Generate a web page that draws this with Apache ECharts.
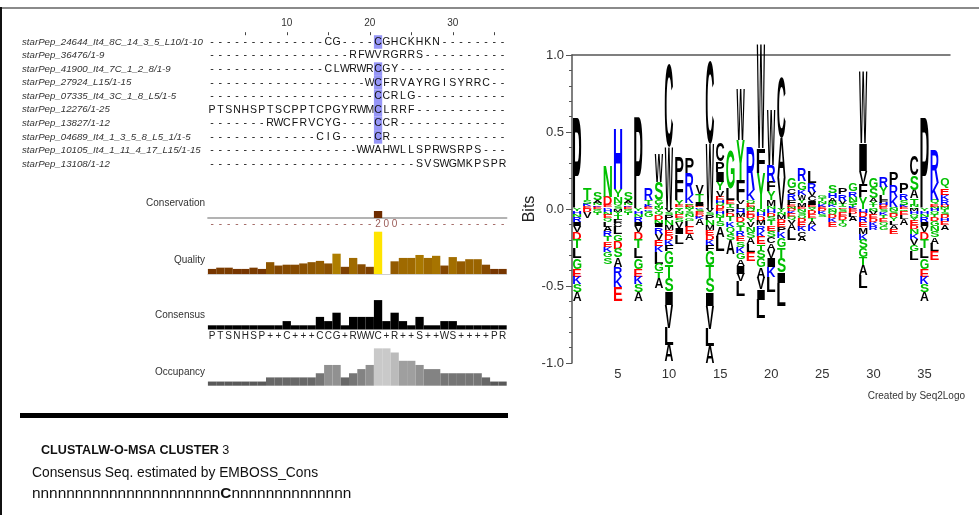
<!DOCTYPE html>
<html><head><meta charset="utf-8">
<script src="https://cdn.jsdelivr.net/npm/echarts@6/dist/echarts.min.js"></script>
<style>html,body{margin:0;padding:0;background:#fff}#c{width:979px;height:515px}</style>
</head><body><div id="c"></div>
<script>
// ---------------- DATA ----------------
const columns = ["1","2","3","4","5","6","7","8","9","10","11","12","13","14","15","16","17","18","19","20","21","22","23","24","25","26","27","28","29","30","31","32","33","34","35","36"];
const seqNames = [
  "starPep_24644_It4_8C_14_3_5_L10/1-10",
  "starPep_36476/1-9",
  "starPep_41900_It4_7C_1_2_8/1-9",
  "starPep_27924_L15/1-15",
  "starPep_07335_It4_3C_1_8_L5/1-5",
  "starPep_12276/1-25",
  "starPep_13827/1-12",
  "starPep_04689_It4_1_3_5_8_L5_1/1-5",
  "starPep_10105_It4_1_11_4_17_L15/1-15",
  "starPep_13108/1-12"
];
const alignRows = [
  "--------------CG----CGHCKHKN--------",
  "-----------------RFWVRGRRS----------",
  "--------------CLWRWRCGY-------------",
  "-------------------WCFRVAYRGISYRRC--",
  "--------------------CCRLG-----------",
  "PTSNHSPTSCPPTCPGYRWMCLRRF-----------",
  "-------RWCFRVCYG----CCR-------------",
  "-------------CIG----CR--------------",
  "------------------WWAHWLLSPRWSRPS---",
  "-------------------------SVSWGMKPSPR"
];
const conservationChars = "--------------------200-------------";
const conservation = [0,0,0,0,0,0,0,0,0,0,0,0,0,0,0,0,0,0,0,0,2,0,0,0,0,0,0,0,0,0,0,0,0,0,0,0];
const quality = [12,15,15,12,12,15,12,28,20,22,22,25,28,31,25,48,17,38,23,17,100,0,30,38,38,45,38,43,20,40,30,35,35,22,12,12];
const consensusChars = "PTSNHSP++C+++CCG+RWWC+R++S++WS++++PR";
const consensus = [10,10,10,10,10,10,10,10,10,20,10,10,10,30,20,40,10,30,30,30,70,20,40,20,10,30,10,10,20,20,10,10,10,10,10,10];
const occupancy = [1,1,1,1,1,1,1,2,2,2,2,2,2,3,5,5,2,3,4,5,9,9,8,6,6,5,4,4,3,3,3,3,3,2,1,1];

const logoPositions = [1,2,3,4,5,6,7,8,9,10,11,12,13,14,15,16,17,18,19,20,21,22,23,24,25,26,27,28,29,30,31,32,33,34,35,36,37];
const logoTicks = [5,10,15,20,25,30,35];
// positive stacks, listed from the zero line upward: [letter, bits]
const logoUp = [
  [["P",.59]],
  [["E",.018],["K",.015],["S",.025],["T",.076]],
  [["E",.015],["K",.01],["N",.015],["A",.02],["S",.052]],
  [["K",.01],["E",.015],["D",.055],["N",.205]],
  [["S",.02],["Q",.017],["N",.043],["Y",.048],["H",.396]],
  [["E",.015],["K",.01],["N",.015],["A",.02],["S",.052]],
  [["P",.595]],
  [["E",.012],["K",.015],["T",.03],["R",.07]],
  [["N",.015],["Y",.02],["G",.023],["S",.12],["W",.184]],
  [["W",.40],["C",.54]],
  [["Q",.012],["E",.012],["Y",.03],["F",.13],["P",.15]],
  [["N",.012],["E",.012],["Q",.013],["K",.053],["R",.14],["P",.10]],
  [["K",.01],["E",.012],["I",.025],["T",.05],["V",.06]],
  [["W",.42],["C",.537]],
  [["D",.02],["Q",.02],["H",.02],["E",.02],["V",.043],["Y",.054],["I",.065],["P",.065],["C",.119]],
  [["Q",.015],["T",.02],["E",.023],["L",.076],["G",.249]],
  [["L",.03],["V",.028],["F",.13],["Y",.26],["W",.336]],
  [["N",.015],["E",.02],["Q",.023],["K",.065],["R",.282]],
  [["Y",.232],["F",.162],["W",.671]],
  [["N",.02],["M",.038],["Y",.055],["F",.064],["R",.109],["W",.357]],
  [["V",.20],["A",.26],["C",.39]],
  [["N",.015],["E",.013],["F",.03],["R",.042],["C",.034],["G",.066]],
  [["E",.015],["M",.025],["Y",.02],["W",.031],["K",.034],["G",.054],["R",.085]],
  [["Q",.015],["E",.012],["I",.025],["C",.03],["V",.03],["R",.054],["L",.076]],
  [["E",.015],["K",.015],["N",.02],["T",.02],["G",.02]],
  [["Q",.012],["K",.012],["N",.012],["T",.012],["A",.022],["H",.033],["S",.054]],
  [["E",.01],["Q",.01],["T",.012],["V",.022],["R",.044],["P",.043]],
  [["K",.012],["T",.012],["S",.024],["N",.033],["R",.033],["G",.054]],
  [["Y",.075],["F",.087],["V",.086],["I",.178],["W",.466]],
  [["Q",.012],["T",.014],["Y",.02],["A",.022],["S",.065],["G",.066]],
  [["E",.012],["D",.012],["H",.015],["F",.02],["L",.03],["Y",.055],["R",.066]],
  [["Q",.015],["K",.065],["R",.076],["P",.086]],
  [["E",.012],["K",.015],["S",.03],["R",.044],["P",.066]],
  [["Q",.012],["N",.014],["T",.043],["A",.054],["S",.097],["C",.13]],
  [["P",.589]],
  [["N",.015],["E",.015],["Q",.028],["K",.109],["R",.216]],
  [["N",.012],["D",.014],["R",.032],["K",.033],["E",.043],["Q",.066]]
];
// negative stacks, listed from the zero line downward: [letter, bits]
const logoDown = [
  [["Y",.015],["H",.02],["N",.02],["R",.03],["I",.025],["V",.04],["D",.05],["T",.055],["L",.065],["G",.07],["E",.05],["K",.05],["S",.05],["A",.06]],
  [["D",.02],["V",.04]],
  [["Q",.012],["G",.015],["T",.013]],
  [["H",.02],["N",.02],["E",.02],["Q",.025],["L",.03],["A",.03],["R",.03],["T",.035],["E",.035],["K",.035],["G",.035],["S",.04]],
  [["M",.02],["Y",.02],["T",.025],["F",.025],["C",.03],["L",.045],["G",.045],["D",.05],["S",.055],["A",.06],["R",.065],["K",.065],["E",.09]],
  [["Q",.012],["G",.015],["T",.013]],
  [["Y",.015],["H",.02],["N",.02],["R",.03],["I",.025],["V",.04],["D",.05],["T",.055],["L",.065],["G",.07],["E",.05],["K",.05],["S",.05],["A",.06]],
  [["K",.01],["Q",.012],["G",.03]],
  [["Y",.02],["Q",.02],["D",.03],["N",.025],["I",.025],["R",.04],["V",.04],["E",.04],["K",.04],["L",.075],["G",.05],["T",.045],["A",.065]],
  [["V",.022],["S",.017],["P",.032],["N",.032],["M",.032],["E",.032],["D",.032],["K",.032],["F",.043],["G",.087],["T",.087],["S",.087],["I",.087],["V",.15],["L",.112],["A",.105]],
  [["Y",.015],["N",.02],["E",.025],["S",.025],["V",.04],["I",.04],["L",.06]],
  [["Y",.015],["S",.02],["N",.02],["G",.02],["L",.04],["E",.045],["A",.04]],
  [["S",.02],["E",.015],["D",.015],["K",.015],["A",.04]],
  [["V",.022],["S",.017],["P",.032],["N",.032],["M",.032],["E",.032],["D",.032],["K",.032],["F",.043],["G",.09],["T",.087],["S",.09],["I",.087],["V",.15],["L",.112],["A",.108]],
  [["E",.015],["H",.02],["N",.02],["T",.025],["S",.03],["A",.07],["L",.095]],
  [["P",.025],["D",.025],["T",.03],["K",.035],["Q",.04],["S",.045],["A",.09]],
  [["H",.03],["M",.025],["D",.03],["Q",.03],["T",.03],["R",.03],["E",.035],["S",.035],["K",.04],["G",.04],["A",.045],["I",.05],["V",.05],["L",.095]],
  [["Q",.02],["E",.02],["D",.02],["Y",.025],["V",.03],["N",.035],["S",.04],["A",.04],["L",.05],["E",.06]],
  [["N",.02],["H",.025],["D",.03],["M",.03],["R",.035],["K",.04],["E",.045],["T",.045],["S",.05],["G",.06],["A",.07],["V",.07],["I",.07],["L",.12]],
  [["H",.025],["D",.025],["S",.025],["T",.03],["E",.035],["S",.04],["C",.04],["A",.045],["V",.05],["I",.06],["K",.065],["L",.10]],
  [["Y",.02],["N",.02],["M",.025],["D",.025],["E",.03],["P",.03],["K",.04],["G",.06],["T",.07],["S",.09],["I",.07],["L",.15]],
  [["D",.015],["K",.015],["E",.02],["Q",.02],["V",.025],["A",.04],["L",.065]],
  [["N",.02],["S",.02],["Q",.02],["D",.025],["E",.03],["K",.03],["C",.035],["A",.03]],
  [["Y",.015],["D",.02],["E",.025],["T",.02],["A",.025],["K",.04]],
  [["D",.015],["K",.015],["S",.02]],
  [["N",.02],["Q",.02],["D",.02],["K",.025],["E",.03]],
  [["S",.02],["E",.025],["D",.025],["T",.02],["Q",.025]],
  [["E",.015],["D",.015],["L",.02],["A",.03]],
  [["H",.025],["D",.03],["R",.03],["E",.035],["M",.04],["K",.04],["S",.055],["G",.06],["T",.05],["A",.065],["L",.085]],
  [["N",.02],["V",.02],["E",.02],["D",.025],["K",.025],["R",.026]],
  [["S",.02],["K",.02],["T",.02],["E",.025],["Q",.025],["G",.026]],
  [["N",.015],["S",.02],["D",.02],["Y",.025],["L",.025],["A",.025],["E",.03]],
  [["Q",.015],["E",.025],["L",.025],["A",.04]],
  [["M",.015],["H",.02],["Q",.02],["Y",.02],["E",.03],["D",.025],["N",.03],["K",.035],["V",.04],["G",.04],["L",.055]],
  [["Y",.015],["H",.02],["N",.02],["R",.03],["I",.025],["V",.04],["D",.05],["T",.055],["L",.065],["G",.07],["E",.05],["K",.05],["S",.05],["A",.06]],
  [["H",.015],["Q",.02],["T",.02],["D",.025],["G",.03],["N",.035],["S",.04],["A",.04],["L",.045],["E",.06]],
  [["T",.02],["S",.02],["D",.02],["H",.02],["E",.025],["A",.03]]
];

const trackLabels = ["Conservation","Quality","Consensus","Occupancy"];
const titleText = "CLUSTALW-O-MSA CLUSTER";
const clusterNo = "3";
const subtitleText = "Consensus Seq. estimated by EMBOSS_Cons";
const consensusPrefix = "nnnnnnnnnnnnnnnnnnnnnn";
const consensusMid = "C";
const consensusSuffix = "nnnnnnnnnnnnnn";

// ---------------- HELPERS ----------------
const SANS = '"Liberation Sans", Arial, Helvetica, sans-serif';
const aaColor = ch => ("DE".includes(ch) ? "#ff0000" : "KRH".includes(ch) ? "#0000ff" :
                      "GSTYNQ".includes(ch) ? "#00c000" : "#000000");

const mctx = document.createElement("canvas").getContext("2d");
const gcache = {};
function glyph(ch) {
  if (gcache[ch]) return gcache[ch];
  mctx.font = 'bold 100px ' + SANS;
  mctx.textAlign = "center";
  mctx.textBaseline = "middle";
  const m = mctx.measureText(ch);
  const l = m.actualBoundingBoxLeft, r = m.actualBoundingBoxRight;
  const a = m.actualBoundingBoxAscent, d = m.actualBoundingBoxDescent;
  return (gcache[ch] = { w: l + r, h: a + d, ox: -(r - l) / 2, oy: (a - d) / 2 });
}

const logoItems = [];
logoUp.forEach((stack, i) => {
  let y = 0;
  stack.forEach(([ch, h]) => { logoItems.push({ pos: logoPositions[i], y0: y, y1: y + h, ch }); y += h; });
});
logoDown.forEach((stack, i) => {
  let y = 0;
  stack.forEach(([ch, h]) => { logoItems.push({ pos: logoPositions[i], y0: y - h, y1: y, ch }); y -= h; });
});

const alignData = [];
alignRows.forEach((row, r) => { for (let c = 0; c < columns.length; c++) alignData.push([c, r]); });

function lerp(a, b, t) { return Math.round(a + (b - a) * t); }
function qualityColor(v) {
  if (v >= 100) return "#ffe400";
  const t = v / 100;
  return `rgb(${lerp(100, 255, t)},${lerp(30, 230, t)},0)`;
}
function occColor(n) { const g = 75 + n * 14; return `rgb(${g},${g},${g})`; }

// ---------------- LAYOUT ----------------
const L = 207.9, W = 298.8;
const chart = echarts.init(document.getElementById("c"), null, { renderer: "canvas" });

const option = {
  animation: false,
  backgroundColor: "#ffffff",
  grid: [
    { left: L, top: 35.2, width: W, height: 135.6 },
    { left: L, top: 179.5, width: W, height: 38.5 },
    { left: L, top: 231.7, width: W, height: 42.3 },
    { left: L, top: 287.5, width: W, height: 42 },
    { left: L, top: 344.2, width: W, height: 41.5 },
    { left: 572, top: 55, width: 378, height: 308 }
  ],
  xAxis: [
    { gridIndex: 0, type: "category", data: columns, position: "top",
      axisLine: { show: false },
      axisTick: { show: true, alignWithLabel: true, length: 3, interval: i => (i + 1) % 5 === 0, lineStyle: { color: "#444" } },
      axisLabel: { interval: i => (i + 1) % 10 === 0, margin: 7, fontSize: 10, color: "#333", fontFamily: SANS } },
    { gridIndex: 1, type: "category", data: columns,
      axisLine: { show: true, lineStyle: { color: "#9a9a9a", width: 1.5 } }, axisTick: { show: false },
      axisLabel: { interval: 0, margin: 1, fontSize: 10, color: "#9a5a56", fontFamily: SANS, formatter: (v, i) => conservationChars[i] } },
    { gridIndex: 2, type: "category", data: columns,
      axisLine: { show: true, lineStyle: { color: "#cfcfcf", width: 1 } }, axisTick: { show: false }, axisLabel: { show: false } },
    { gridIndex: 3, type: "category", data: columns,
      axisLine: { show: false }, axisTick: { show: false },
      axisLabel: { interval: 0, margin: 2, fontSize: 10, color: "#222", fontFamily: SANS, formatter: (v, i) => consensusChars[i] } },
    { gridIndex: 4, type: "category", data: columns,
      axisLine: { show: false }, axisTick: { show: false }, axisLabel: { show: false } },
    { gridIndex: 5, type: "value", min: 0.5, max: 37.5, position: "bottom",
      axisLine: { show: false }, axisTick: { show: false }, splitLine: { show: false },
      axisLabel: { customValues: logoTicks, margin: 5, fontSize: 13, color: "#333", fontFamily: SANS } },
    { gridIndex: 5, type: "value", min: 0.5, max: 37.5, position: "top",
      axisLine: { show: true, onZero: true, lineStyle: { color: "#555", width: 1.5 } },
      axisTick: { show: false }, axisLabel: { show: false }, splitLine: { show: false } }
  ],
  yAxis: [
    { gridIndex: 0, type: "category", data: seqNames, inverse: true,
      axisLine: { show: false }, axisTick: { show: false },
      axisLabel: { align: "left", margin: L - 22, fontSize: 9.7, fontStyle: "italic", color: "#333", fontFamily: SANS } },
    { gridIndex: 1, type: "value", min: 0, max: 11, show: false },
    { gridIndex: 2, type: "value", min: 0, max: 100, show: false },
    { gridIndex: 3, type: "value", min: 0, max: 100, show: false },
    { gridIndex: 4, type: "value", min: 0, max: 10, show: false },
    { gridIndex: 5, type: "value", min: -1, max: 1, interval: 0.5,
      name: "Bits", nameLocation: "middle", nameGap: 32,
      nameTextStyle: { fontSize: 16, color: "#222", fontFamily: SANS },
      axisLine: { show: true, lineStyle: { color: "#555", width: 1.5 } },
      axisTick: { show: true, length: 6, lineStyle: { color: "#555" } },
      minorTick: { show: true, splitNumber: 5, length: 3, lineStyle: { color: "#555" } },
      splitLine: { show: false }, minorSplitLine: { show: false },
      axisLabel: { margin: 8, fontSize: 13, color: "#333", fontFamily: SANS, formatter: v => v.toFixed(1) } }
  ],
  series: [
    { type: "custom", xAxisIndex: 0, yAxisIndex: 0, data: alignData, clip: false,
      renderItem: (params, api) => {
        const c = api.value(0), r = api.value(1);
        const ch = alignRows[r][c];
        const pt = api.coord([c, r]);
        const sz = api.size([1, 1]);
        const children = [];
        if (ch === consensusChars[c] && consensus[c] > 40) {
          children.push({ type: "rect", shape: { x: pt[0] - sz[0] / 2, y: pt[1] - sz[1] / 2, width: sz[0], height: sz[1] },
                          style: { fill: "#9696f7" } });
        }
        children.push({ type: "text", style: { text: ch, x: pt[0], y: pt[1], align: "center", verticalAlign: "middle",
                         fontSize: 10.5, fontFamily: SANS, fill: "#111" } });
        return { type: "group", children };
      } },
    { type: "bar", xAxisIndex: 1, yAxisIndex: 1, data: conservation, barCategoryGap: "0%",
      itemStyle: { color: "#6e2c00" } },
    { type: "bar", xAxisIndex: 2, yAxisIndex: 2, data: quality, barCategoryGap: "0%",
      itemStyle: { color: p => qualityColor(p.value) } },
    { type: "bar", xAxisIndex: 3, yAxisIndex: 3, data: consensus, barCategoryGap: "0%",
      itemStyle: { color: "#000" } },
    { type: "bar", xAxisIndex: 4, yAxisIndex: 4, data: occupancy, barCategoryGap: "0%",
      itemStyle: { color: p => occColor(p.value) } },
    { type: "custom", xAxisIndex: 5, yAxisIndex: 5, clip: false,
      data: logoItems.map(d => [d.pos, d.y0, d.y1]),
      encode: { x: 0, y: [1, 2] },
      renderItem: (params, api) => {
        const d = logoItems[params.dataIndex];
        const p0 = api.coord([d.pos - 0.41, d.y1]);
        const p1 = api.coord([d.pos + 0.41, d.y0]);
        const w = p1[0] - p0[0], h = p1[1] - p0[1];
        if (h < 0.2) return null;
        const g = glyph(d.ch);
        return { type: "text", x: (p0[0] + p1[0]) / 2, y: (p0[1] + p1[1]) / 2,
                 scaleX: w / g.w, scaleY: h / g.h,
                 style: { text: d.ch, x: g.ox, y: g.oy, align: "center", verticalAlign: "middle",
                          fontSize: 100, fontWeight: "bold", fontFamily: SANS, fill: aaColor(d.ch) } };
      } }
  ],
  graphic: [
    { type: "line", shape: { x1: 0, y1: 8, x2: 979, y2: 8 }, style: { stroke: "#8a8a8a", lineWidth: 2 } },
    { type: "line", shape: { x1: 1, y1: 7, x2: 1, y2: 515 }, style: { stroke: "#111", lineWidth: 2 } },
    { type: "text", x: 205, y: 203, style: { text: trackLabels[0], align: "right", verticalAlign: "middle", fontSize: 10, fontFamily: SANS, fill: "#333" } },
    { type: "text", x: 205, y: 260, style: { text: trackLabels[1], align: "right", verticalAlign: "middle", fontSize: 10, fontFamily: SANS, fill: "#333" } },
    { type: "text", x: 205, y: 315, style: { text: trackLabels[2], align: "right", verticalAlign: "middle", fontSize: 10, fontFamily: SANS, fill: "#333" } },
    { type: "text", x: 205, y: 372, style: { text: trackLabels[3], align: "right", verticalAlign: "middle", fontSize: 10, fontFamily: SANS, fill: "#333" } },
    { type: "rect", shape: { x: 20, y: 413, width: 488, height: 5 }, style: { fill: "#000" } },
    { type: "text", x: 41, y: 451, style: { text: "{b|" + titleText + "} {n|" + clusterNo + "}", verticalAlign: "middle",
        rich: { b: { fontSize: 12.6, fontWeight: "bold", fontFamily: SANS, fill: "#111" }, n: { fontSize: 12.6, fontFamily: SANS, fill: "#111" } } } },
    { type: "text", x: 32, y: 473, style: { text: subtitleText, verticalAlign: "middle", fontSize: 13.8, fontFamily: SANS, fill: "#111" } },
    { type: "text", x: 32, y: 494, style: { text: "{a|" + consensusPrefix + "}{c|" + consensusMid + "}{a|" + consensusSuffix + "}", verticalAlign: "middle",
        rich: { a: { fontSize: 15.4, fontFamily: SANS, fill: "#111" }, c: { fontSize: 15.4, fontWeight: "bold", fontFamily: SANS, fill: "#111" } } } },
    { type: "text", x: 965, y: 396, style: { text: "Created by Seq2Logo", align: "right", verticalAlign: "middle", fontSize: 10, fontFamily: SANS, fill: "#333" } }
  ]
};
chart.setOption(option);
</script>
</body></html>
